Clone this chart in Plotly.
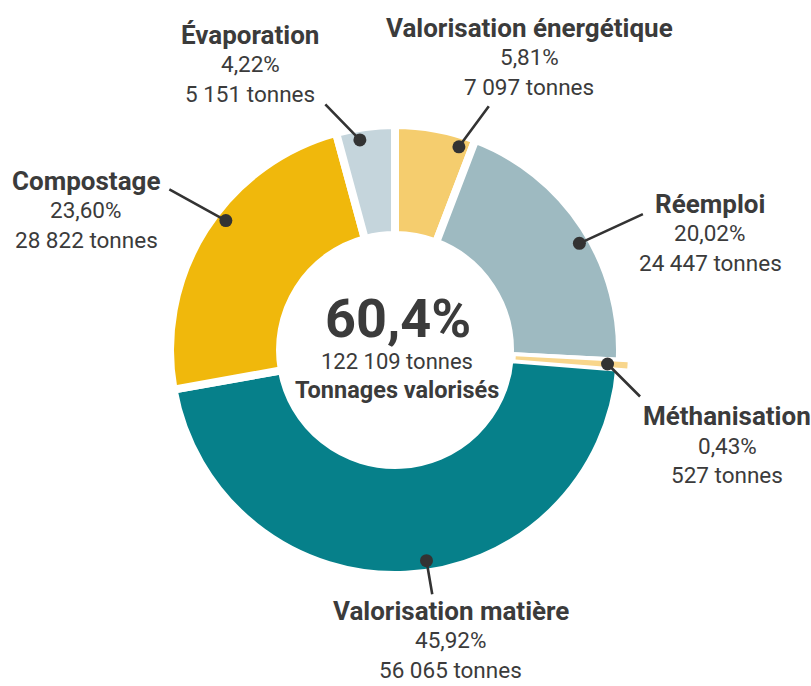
import math
import plotly.graph_objects as go

# ---- data ----
categories = ["Valorisation énergétique", "Réemploi", "Méthanisation",
              "Valorisation matière", "Compostage", "Évaporation"]
tonnes = [7097, 24447, 527, 56065, 28822, 5151]
pct_labels = ["5,81%", "20,02%", "0,43%", "45,92%", "23,60%", "4,22%"]
tonnes_labels = ["7 097 tonnes", "24 447 tonnes", "527 tonnes",
                 "56 065 tonnes", "28 822 tonnes", "5 151 tonnes"]
center_pct = "60,4%"
center_tonnes = "122 109 tonnes"
center_title = "Tonnages valorisés"

# ---- style / layout ----
W, H = 811, 686
CX, CY = 395, 350          # pie centre in px
R_MAIN = 225               # main pie radius in px (incl. white stroke)
HOLE_MAIN = 0.511
R_METH = 233
HOLE_METH = 0.519
colors = ["#F5CD6E", "#9EBAC1", "#FFFFFF", "#06808A", "#F0B80C", "#C5D5DC"]
meth_color = "#F8D68C"
txt = "#3B3B3B"
FONT = "Roboto"

def dom(r):
    return dict(x=[(CX - r) / W, (CX + r) / W],
                y=[1 - (CY + r) / H, 1 - (CY - r) / H])

fig = go.Figure()
fig.add_trace(go.Pie(
    labels=categories, values=tonnes, sort=False, direction="clockwise",
    rotation=0, hole=HOLE_MAIN, textinfo="none", hoverinfo="label+value",
    marker=dict(colors=colors, line=dict(color="white", width=8)),
    domain=dom(R_MAIN), showlegend=False))
meth_colors = [meth_color if c == "Méthanisation" else "rgba(0,0,0,0)" for c in categories]
fig.add_trace(go.Pie(
    labels=categories, values=tonnes, sort=False, direction="clockwise",
    rotation=0, hole=HOLE_METH, textinfo="none", hoverinfo="skip",
    marker=dict(colors=meth_colors, line=dict(width=0)),
    domain=dom(R_METH), showlegend=False))

# leader line geometry (layout)
angle_offsets = [7, 3, 0, -5.7, 5.1, -1.9]   # degrees from slice mid-angle
dot_r = 213
tails = [(31, -42), (65, -30), (34, 34), (6, 35), (-58, -32), (-36, -37)]
label_pos = [(529, 28), (710, 204), (727, 416), (451, 616), (86, 181), (250, 35)]
line_gap = 29.5
title_size, value_size = 26, 22.5

total = sum(tonnes)
annotations = []
cum = 0
for i, v in enumerate(tonnes):
    mid = (cum + v / 2) / total * 360
    cum += v
    th = math.radians(mid + angle_offsets[i])
    px = CX + dot_r * math.sin(th)
    py = CY - dot_r * math.cos(th)
    annotations.append(dict(
        x=px / W, y=1 - py / H, xref="paper", yref="paper", text="",
        showarrow=True, arrowhead=6, arrowsize=1.25, arrowwidth=2.6,
        arrowcolor="#333333", ax=tails[i][0], ay=tails[i][1],
        axref="pixel", ayref="pixel"))
    lx, ly = label_pos[i]
    lines = [("<b>%s</b>" % categories[i], title_size),
             (pct_labels[i], value_size), (tonnes_labels[i], value_size)]
    limit = H - 0.68 * value_size - 1
    shift = max(0, ly + 2 * line_gap - limit)
    for k, (t, s) in enumerate(lines):
        yc = ly - shift + k * line_gap
        annotations.append(dict(
            x=lx / W, y=1 - yc / H, xref="paper", yref="paper",
            text=t, showarrow=False, xanchor="center", yanchor="middle",
            font=dict(family=FONT, size=s, color=txt)))

annotations.append(dict(x=398 / W, y=1 - 318 / H, xref="paper", yref="paper",
                        text="<b>%s</b>" % center_pct, showarrow=False,
                        xanchor="center", yanchor="middle",
                        font=dict(family=FONT, size=54, color=txt)))
annotations.append(dict(x=397 / W, y=1 - 361 / H, xref="paper", yref="paper",
                        text=center_tonnes, showarrow=False,
                        xanchor="center", yanchor="middle",
                        font=dict(family=FONT, size=22, color=txt)))
annotations.append(dict(x=397 / W, y=1 - 390 / H, xref="paper", yref="paper",
                        text="<b>%s</b>" % center_title, showarrow=False,
                        xanchor="center", yanchor="middle",
                        font=dict(family=FONT, size=23.5, color=txt)))

fig.update_layout(width=W, height=H, autosize=False,
                  margin=dict(l=0, r=0, t=0, b=0),
                  paper_bgcolor="white", plot_bgcolor="white",
                  annotations=annotations)

fig.write_html("out.html", config={"displayModeBar": False},
               post_script="document.body.style.margin='0';")
